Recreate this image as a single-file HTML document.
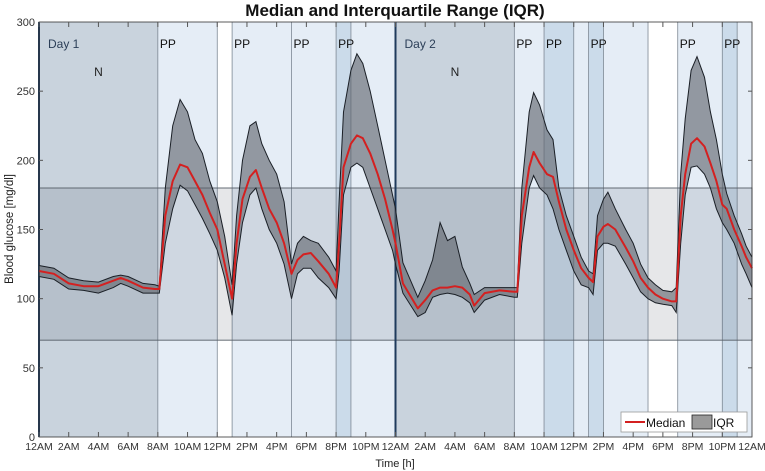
<!DOCTYPE html>
<html><head><meta charset="utf-8"><style>
html,body{margin:0;padding:0;background:#fff;}
svg{display:block;font-family:"Liberation Sans",Arial,sans-serif;}
</style></head><body>
<svg id="chart" width="765" height="471" viewBox="0 0 765 471" xmlns="http://www.w3.org/2000/svg">
<text x="395" y="16" text-anchor="middle" font-size="17" font-weight="bold" fill="#111">Median and Interquartile Range (IQR)</text>
<g id="bg"></g><g id="band"></g><g id="series"></g><g id="axes"></g>
<text x="395" y="467" text-anchor="middle" font-size="11" fill="#222">Time [h]</text>
<text transform="translate(13,229) rotate(-90)" text-anchor="middle" font-size="11.5" fill="#222">Blood glucose [mg/dl]</text>
<g>
<rect x="621" y="412" width="126" height="20" fill="#fff" stroke="#999" stroke-width="0.8"/>
<line x1="625" y1="422" x2="645" y2="422" stroke="#d42020" stroke-width="2"/>
<text x="646" y="427" font-size="12" fill="#111">Median</text>
<rect x="692" y="415" width="20" height="14" fill="#9a9a9a" stroke="#222" stroke-width="0.8"/>
<text x="713" y="427" font-size="12" fill="#111">IQR</text>
</g>
</svg>
<script>
const times=[0,1,2,3,4,5,5.5,6,7,7.8,8.1,8.5,9,9.5,10,10.5,11,11.5,12,12.5,13,13.3,13.7,14.2,14.6,15,15.5,16,16.5,17,17.4,17.8,18.3,18.8,19.5,20,20.2,20.5,21,21.4,21.8,22.3,22.8,23.3,23.8,24,24.5,25.5,26,26.5,27,27.5,28,28.5,29,29.3,30,31,32,32.2,32.5,33,33.3,33.7,34.2,34.6,35,35.5,36,36.5,37,37.3,37.6,38,38.3,38.8,39.5,40,40.5,41,41.5,42,42.6,42.9,43.2,43.5,43.9,44.3,44.8,45.2,45.6,46,46.3,46.8,47.3,47.6,48];
const q1=[116,114,107,106,104,108,111,109,104,104,104,140,165,182,178,168,158,147,135,115,88,125,155,175,180,165,150,140,125,100,118,122,122,115,108,100,120,175,195,198,195,180,165,150,135,125,104,87,90,101,103,104,103,101,97,90,99,103,101,101,140,180,189,180,175,165,150,135,120,110,108,103,135,140,140,138,125,115,105,100,97,96,95,90,140,175,195,196,190,180,165,155,150,140,125,118,108];
const median=[120,118,111,109,109,113,115,113,108,107,107,160,185,197,195,185,175,162,150,125,100,140,172,188,193,180,165,155,140,118,128,132,133,127,118,108,140,195,212,218,216,205,190,172,150,140,111,93,99,106,108,108,109,108,103,95,104,106,105,105,160,195,206,198,190,188,170,150,135,122,115,112,145,152,154,150,137,127,115,108,103,100,98,98,160,190,212,216,210,198,185,168,165,150,138,130,122];
const q3=[124,122,115,113,112,116,117,116,111,110,109,180,225,244,235,215,205,185,170,145,110,160,200,225,228,212,200,190,170,125,140,145,142,140,130,120,170,235,265,277,270,250,225,200,175,165,126,101,113,128,155,142,145,123,111,103,108,108,108,108,180,235,249,240,222,215,180,160,145,130,120,118,160,172,177,165,150,140,125,115,110,106,105,108,190,230,265,275,260,235,215,190,176,160,147,138,130];
const regionStart=[0,8,12,13,17,20,21,24,32,34,36,37,38,41,43,46,47];
const regionEnd=[8,12,13,17,20,21,24,32,34,36,37,38,41,43,46,47,48];
const regionType=['N','L','W','L','L','D','L','N','L','D','L','D','L','W','L','D','L'];
const ppHours=[8,13,17,20,32,34,37,43,46];
const yTicks=[0,50,100,150,200,250,300];
const xTickLabels=['12AM','2AM','4AM','6AM','8AM','10AM','12PM','2PM','4PM','6PM','8PM','10PM','12AM','2AM','4AM','6AM','8AM','10AM','12PM','2PM','4PM','6PM','8PM','10PM','12AM'];
const bandLow=70, bandHigh=180;

const X0=39,X1=752,Y0=437,Y1=22;
const xs=h=>X0+(X1-X0)*h/48;
const ys=v=>Y0-(Y0-Y1)*v/300;
const NS='http://www.w3.org/2000/svg';
function mk(parent,tag,attrs){const e=document.createElementNS(NS,tag);for(const k in attrs)e.setAttribute(k,attrs[k]);document.getElementById(parent).appendChild(e);return e;}
const colors={N:'#c9d3dd',L:'#e5edf6',D:'#cbdbea',W:'#ffffff'};
regionStart.forEach((s,i)=>{
  const r=mk('bg','rect',{x:xs(s),y:Y1,width:xs(regionEnd[i])-xs(s),height:Y0-Y1,fill:colors[regionType[i]]});
  
  
  const l=mk('bg','line',{x1:xs(s),x2:xs(s),y1:Y1,y2:Y0,stroke:'#7d8894','stroke-width':0.8});
  
  
});
const band=mk('band','rect',{x:X0,y:ys(bandHigh),width:X1-X0,height:ys(bandLow)-ys(bandHigh),fill:'rgba(50,60,70,0.12)',stroke:'#555d66','stroke-width':0.9});


[0,24].forEach(h=>{const l=mk('band','line',{x1:xs(h),x2:xs(h),y1:Y1,y2:Y0,stroke:'#1e3a5c','stroke-width':2});

});
// labels
[['Day 1',0],['Day 2',24]].forEach(([t,h])=>{const e=mk('bg','text',{x:xs(h)+9,y:48,'font-size':12,fill:'#2b3e57'});e.textContent=t;

});
[4,28].forEach(h=>{const e=mk('bg','text',{x:xs(h),y:76,'font-size':12,fill:'#222','text-anchor':'middle'});e.textContent='N';

});
ppHours.forEach(h=>{const e=mk('bg','text',{x:xs(h)+2,y:48,'font-size':12,fill:'#111'});e.textContent='PP';

});
// IQR
let d='M'+times.map((t,i)=>xs(t).toFixed(1)+','+ys(q3[i]).toFixed(1)).join('L');
for(let i=times.length-1;i>=0;i--)d+='L'+xs(times[i]).toFixed(1)+','+ys(q1[i]).toFixed(1);
const iqr=mk('series','path',{d:d+'Z',fill:'rgba(95,100,108,0.62)',stroke:'none'});


[q3,q1].forEach(arr=>{const p=mk('series','polyline',{points:times.map((t,i)=>xs(t).toFixed(1)+','+ys(arr[i]).toFixed(1)).join(' '),fill:'none',stroke:'#1a1f26','stroke-width':1});

});
const med=mk('series','polyline',{points:times.map((t,i)=>xs(t).toFixed(1)+','+ys(median[i]).toFixed(1)).join(' '),fill:'none',stroke:'#d42020','stroke-width':2,'stroke-linejoin':'round'});


// axes
const fr=mk('axes','rect',{x:X0,y:Y1,width:X1-X0,height:Y0-Y1,fill:'none',stroke:'#333','stroke-width':0.8});


yTicks.forEach(v=>{
  mk('axes','line',{x1:X0,x2:X0+4,y1:ys(v),y2:ys(v),stroke:'#555'});
  mk('axes','line',{x1:X1-4,x2:X1,y1:ys(v),y2:ys(v),stroke:'#555'});
  const t=mk('axes','text',{x:X0-4,y:ys(v)+4,'font-size':11,fill:'#333','text-anchor':'end'});t.textContent=v;
  
  
});
xTickLabels.forEach((lab,i)=>{
  const h=i*2;
  mk('axes','line',{x1:xs(h),x2:xs(h),y1:Y0,y2:Y0-5,stroke:'#555'});
  mk('axes','line',{x1:xs(h),x2:xs(h),y1:Y1,y2:Y1+5,stroke:'#555'});
  const t=mk('axes','text',{x:xs(h),y:450,'font-size':10.5,fill:'#333','text-anchor':'middle'});t.textContent=lab;
  
  
});
</script>
</body></html>
